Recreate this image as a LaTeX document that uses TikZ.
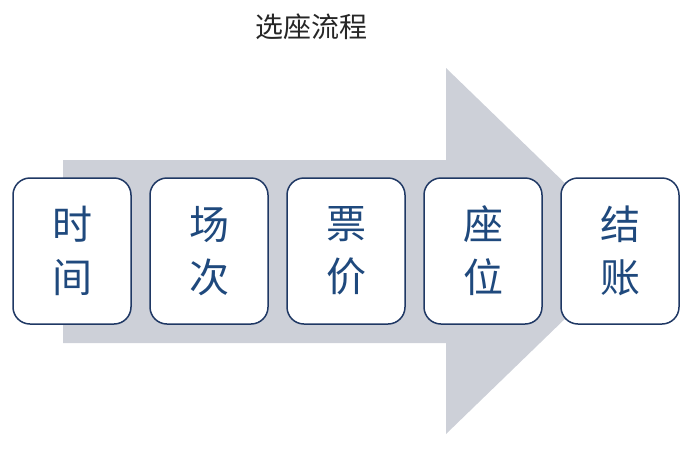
\documentclass[tikz,border=0pt]{standalone}
\usepackage{fontspec}
\setmainfont{Noto Sans CJK SC}
\usetikzlibrary{positioning}
\definecolor{arrowgray}{RGB}{205,208,216}
\definecolor{boxblue}{RGB}{31,56,100}
\definecolor{textblue}{RGB}{31,73,125}
\begin{document}
\begin{tikzpicture}[x=1pt,y=-1pt,line join=round,node distance=17.5pt,
    stepbox/.style={draw=boxblue,line width=1.5pt,fill=white,rounded corners=17pt,
        minimum width=118pt,minimum height=146pt,inner sep=0pt,
        text=textblue,align=center,font=\fontsize{40}{53}\selectfont},
    title/.style={font=\fontsize{28}{30}\selectfont,text=black!85}]
        \useasboundingbox (0,0) rectangle (700,467);
        \def\shaftl{63} \def\shaftr{446}
        \def\shaftt{160} \def\shaftb{343}
        % big arrow behind the boxes
        \fill[arrowgray] (\shaftl,\shaftt)--(\shaftr,\shaftt)--(\shaftr,68)--(635,251)
            --(\shaftr,434)--(\shaftr,\shaftb)--(\shaftl,\shaftb)--cycle;
        \node[title] (title) at (311,27) {选座流程};
        \node[stepbox] (time) at (72,251) {时\\间};
        \node[stepbox,right=of time] (show) {场\\次};
        \node[stepbox,right=of show] (price) {票\\价};
        \node[stepbox,right=of price] (seat) {座\\位};
        \node[stepbox,right=of seat] (pay) {结\\账};
    \end{tikzpicture}
\end{document}
